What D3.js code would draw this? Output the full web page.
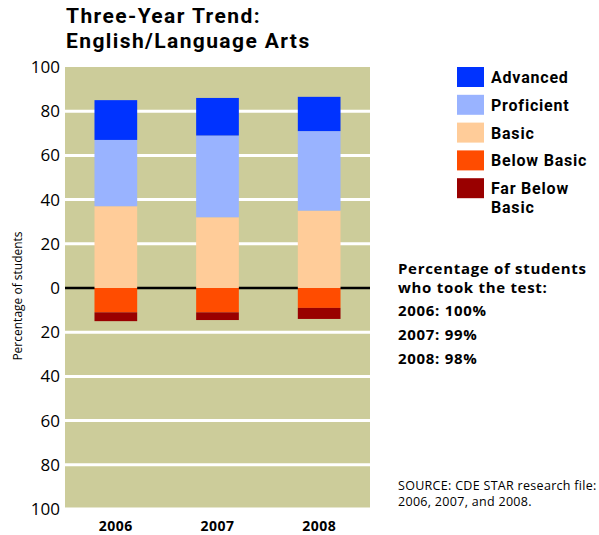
<!DOCTYPE html>
<html>
  <head>
    <meta charset="utf-8">
    <title>Three-Year Trend</title>
    <script src="https://d3js.org/d3.v7.min.js"></script>
    <style>
      body { margin: 0; background: #fff; }
      text { font-family: "Open Sans", "Noto Sans", sans-serif; }
    </style>
  </head>
  <body>
  <script type="text/javascript">
    // data
    var years = ['2006', '2007', '2008'];
    var advanced   = [18, 17, 15.5];
    var proficient = [30, 37, 36];
    var basic      = [37, 32, 35];
    var belowBasic = [11, 11, 9];
    var farBelow   = [4, 3.5, 5];
    var tested = ['2006: 100%', '2007: 99%', '2008: 98%'];
    var tickVals = [100, 80, 60, 40, 20, 0, -20, -40, -60, -80, -100];
    var legendNames = ['Advanced', 'Proficient', 'Basic', 'Below Basic', 'Far Below Basic'];
    var colors = ['#0033ff', '#99b3ff', '#ffcc99', '#ff4c00', '#990000'];

    var svg = d3.select('body')
                .append('svg')
                .attr('width', 599)
                .attr('height', 535);

    var x = d3.scaleBand().domain(years).range([65, 370])
              .paddingInner(0.58).paddingOuter(0.29);
    var y = d3.scaleLinear().domain([-100, 100]).range([509, 67]);

    /* title (Roboto: tighter line box, lines sit close like the original) */
    ['Three-Year Trend:', 'English/Language Arts'].forEach(function(s, k) {
      svg.append('text').attr('x', 66).attr('y', 23 + k * 25)
         .style('font-family', 'Roboto, sans-serif')
         .attr('font-size', 21).attr('font-weight', 'bold')
         .attr('letter-spacing', 1.4).text(s);
    });

    /* plot background + grid */
    svg.append('rect').attr('x', 65).attr('y', y(100))
       .attr('width', 305).attr('height', y(-100) - y(100))
       .attr('fill', '#cccc9a');
    svg.selectAll('.grid')
       .data(tickVals.filter(function(d){ return d != 0 && d != 100; }))
       .enter().append('line')
       .attr('x1', 65).attr('x2', 370)
       .attr('y1', function(d){ return y(d); })
       .attr('y2', function(d){ return y(d); })
       .attr('stroke', '#fff').attr('stroke-width', 3);
    svg.append('line').attr('x1', 65).attr('x2', 370)
       .attr('y1', y(0)).attr('y2', y(0))
       .attr('stroke', '#000').attr('stroke-width', 2.5);

    /* stacked bars: positive up, negative down */
    years.forEach(function(yr, i) {
      var segs = [];
      var b = 0;
      segs.push({y0: b, y1: b + basic[i], c: colors[2]}); b += basic[i];
      segs.push({y0: b, y1: b + proficient[i], c: colors[1]}); b += proficient[i];
      segs.push({y0: b, y1: b + advanced[i], c: colors[0]});
      b = 0;
      segs.push({y0: b, y1: b - belowBasic[i], c: colors[3]}); b -= belowBasic[i];
      segs.push({y0: b, y1: b - farBelow[i], c: colors[4]});
      svg.selectAll('.bar' + i).data(segs).enter().append('rect')
         .attr('x', x(yr)).attr('width', x.bandwidth())
         .attr('y', function(d){ return y(Math.max(d.y0, d.y1)); })
         .attr('height', function(d){ return Math.abs(y(d.y0) - y(d.y1)); })
         .attr('fill', function(d){ return d.c; });
    });

    /* y axis labels */
    var yAxis = d3.axisLeft(y).tickValues(tickVals)
                  .tickFormat(function(d){ return Math.abs(d); })
                  .tickSize(0).tickPadding(5);
    var ya = svg.append('g').attr('transform', 'translate(65,0)').call(yAxis);
    ya.select('.domain').remove();
    ya.selectAll('text').attr('font-size', 17).attr('fill', '#000')
      .style('font-family', '"Open Sans", sans-serif');

    svg.append('text')
       .attr('transform', 'translate(22,296) rotate(-90)')
       .attr('text-anchor', 'middle').attr('font-size', 12)
       .text('Percentage of students');

    /* x axis labels */
    var xAxis = d3.axisBottom(x).tickSize(0).tickPadding(0);
    var xa = svg.append('g').attr('transform', 'translate(0,521)').call(xAxis);
    xa.select('.domain').remove();
    xa.selectAll('text').attr('font-size', 14).attr('font-weight', 'bold')
      .attr('letter-spacing', 0.5)
      .attr('fill', '#000').style('font-family', '"Open Sans", sans-serif');

    /* legend */
    var leg = svg.selectAll('.leg').data(legendNames).enter().append('g')
                 .attr('transform', function(d, i){ return 'translate(457,' + (67 + i * 27.8) + ')'; });
    leg.append('rect').attr('width', 27).attr('height', 20)
       .attr('fill', function(d, i){ return colors[i]; });
    leg.each(function(d) {
      var g = d3.select(this);
      var lines = d == 'Far Below Basic' ? ['Far Below', 'Basic'] : [d];
      lines.forEach(function(s, k) {
        g.append('text').attr('x', 34).attr('y', 16 + k * 19)
         .style('font-family', 'Roboto, sans-serif')
         .attr('font-size', 16).attr('font-weight', 'bold')
         .attr('letter-spacing', 0.8).text(s);
      });
    });

    /* test-taker note */
    svg.append('text').attr('x', 398).attr('y', 274)
       .attr('font-size', 15).attr('font-weight', 'bold')
       .attr('letter-spacing', 0.7).text('Percentage of students');
    svg.append('text').attr('x', 398).attr('y', 293)
       .attr('font-size', 15).attr('font-weight', 'bold')
       .attr('letter-spacing', 0.7).text('who took the test:');
    svg.selectAll('.tested').data(tested).enter().append('text')
       .attr('x', 398).attr('y', function(d, i){ return 316 + i * 24; })
       .attr('font-size', 15).attr('font-weight', 'bold')
       .attr('letter-spacing', 0.7)
       .text(function(d){ return d; });

    /* source */
    svg.append('text').attr('x', 398).attr('y', 490)
       .attr('font-size', 12.5).attr('letter-spacing', 0.3)
       .text('SOURCE: CDE STAR research file:');
    svg.append('text').attr('x', 398).attr('y', 506)
       .attr('font-size', 12.5).attr('letter-spacing', 0.3)
       .text('2006, 2007, and 2008.');
  </script>
  </body>
</html>
